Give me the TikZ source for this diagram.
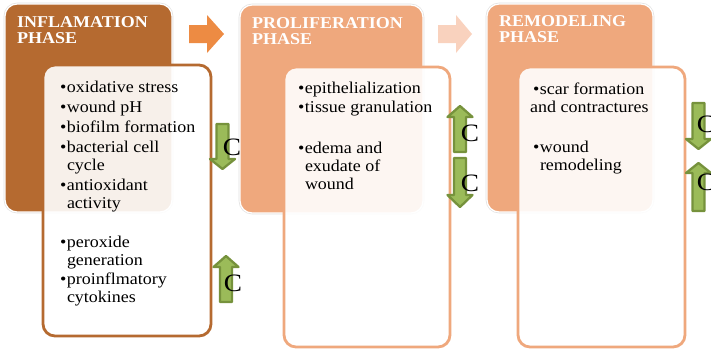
\documentclass[tikz,border=0pt]{standalone}
\usepackage{fontspec}
\setmainfont{Liberation Serif}[FakeStretch=1.09]

\definecolor{phaseA}{RGB}{181,106,48}
\definecolor{phaseB}{RGB}{239,168,125}
\definecolor{arrowA}{RGB}{237,139,67}
\definecolor{arrowB}{RGB}{249,210,190}
\definecolor{grnfill}{RGB}{155,187,89}
\definecolor{grnline}{RGB}{118,146,60}

% bullet with a fixed width, and the indent of a continued line
\newcommand\bitem{\makebox[6.8pt][l]{\textbullet}}
\newcommand\cont{\hspace*{6.8pt}}

% green block arrows: centre x, start y, head base y, tip y
\newcommand\gblock[4]{%
  \filldraw[gtip] ({#1-6},#2) -- ({#1+6},#2) -- ({#1+6},#3) -- ({#1+12.5},#3)
    -- (#1,#4) -- ({#1-12.5},#3) -- ({#1-6},#3) -- cycle;}

\begin{document}
\begin{tikzpicture}[x=1pt,y=-1pt,
  phasebox/.style={rounded corners=12pt},
  listbox/.style={rounded corners=12pt, line width=2.8pt, fill=white, fill opacity=0.9},
  head/.style={anchor=base west, inner sep=0pt, text=white,
    font=\fontsize{16.5}{16.3}\selectfont\bfseries},
  lst/.style={anchor=base west, inner sep=0pt, font=\fontsize{16.5}{18}\selectfont},
  gtip/.style={fill=grnfill, draw=grnline, line width=2.3pt, line join=round},
  clabel/.style={inner sep=0pt, font=\fontsize{25}{25}\selectfont}]

\useasboundingbox (0,0) rectangle (711,351);
\clip (0,0) rectangle (711,351);

% phase panels
\foreach \xa/\ya/\xb/\yb/\col in {5/4/172/212/phaseA, 240/5/423/213/phaseB, 487/4/653/212/phaseB}{
  \draw[phasebox, draw=black!12, line width=2.6pt] (\xa,\ya) rectangle (\xb,\yb);
  \filldraw[phasebox, fill=\col, draw=white, line width=1.3pt] (\xa,\ya) rectangle (\xb,\yb);
}

% list panels
\draw[listbox, draw=phaseA] (43,65) rectangle (211,336);
\draw[listbox, draw=phaseB] (284,67) rectangle (450,347);
\draw[listbox, draw=phaseB] (518,67) rectangle (685,347);

% panel titles
\node[head] (h1) at (17,27)   {\parbox[t]{160pt}{\raggedright INFLAMATION\\PHASE}};
\node[head] (h2) at (252,28.3) {\parbox[t]{170pt}{\raggedright PROLIFERATION\\PHASE}};
\node[head] (h3) at (499,26)  {\parbox[t]{160pt}{\raggedright REMODELING\\PHASE}};

% lists
\node[lst] (l1a) at (60,92) {\parbox[t]{150pt}{\raggedright
  \bitem oxidative stress\\[2pt]
  \bitem wound pH\\[2pt]
  \bitem biofilm formation\\[2pt]
  \bitem bacterial cell\\
  \cont cycle\\[2pt]
  \bitem antioxidant\\
  \cont activity}};
\node[lst] (l1b) at (60,247) {\parbox[t]{150pt}{\raggedright
  \bitem peroxide\\
  \cont generation\\[1pt]
  \bitem proinflmatory\\
  \cont cytokines}};
\node[lst] (l2) at (298,93) {\parbox[t]{150pt}{\raggedright
  \bitem epithelialization\\[1pt]
  \bitem tissue granulation\\[23pt]
  \bitem edema and\\
  \cont exudate of\\
  \cont wound}};
\node[lst] (l3) at (533,94) {\parbox[t]{150pt}{\raggedright
  \bitem scar formation\\
  \hspace*{-3pt}and contractures\\[22pt]
  \bitem wound\\
  \cont remodeling}};

% arrows between phases
\fill[arrowA] (189,25) -- (207,25) -- (207,15) -- (224,34) -- (207,53) -- (207,43) -- (189,43) -- cycle;
\fill[arrowB] (438,25) -- (456,25) -- (456,15) -- (472,34) -- (456,53) -- (456,43) -- (438,43) -- cycle;

% green up and down arrows
\gblock{222.5}{124}{159}{169}
\gblock{226}{302}{267}{256}
\gblock{460}{152}{117}{106}
\gblock{460}{158}{195}{207}
\gblock{698.5}{103}{139}{149}
\gblock{698.5}{211}{173}{163}

% C labels
\node[clabel] (c1) at (232,147) {C};
\node[clabel] (c2) at (233,283) {C};
\node[clabel] (c3) at (470,133) {C};
\node[clabel] (c4) at (470,183) {C};
\node[clabel] (c5) at (706,124) {C};
\node[clabel] (c6) at (706,182) {C};
\end{tikzpicture}
\end{document}
